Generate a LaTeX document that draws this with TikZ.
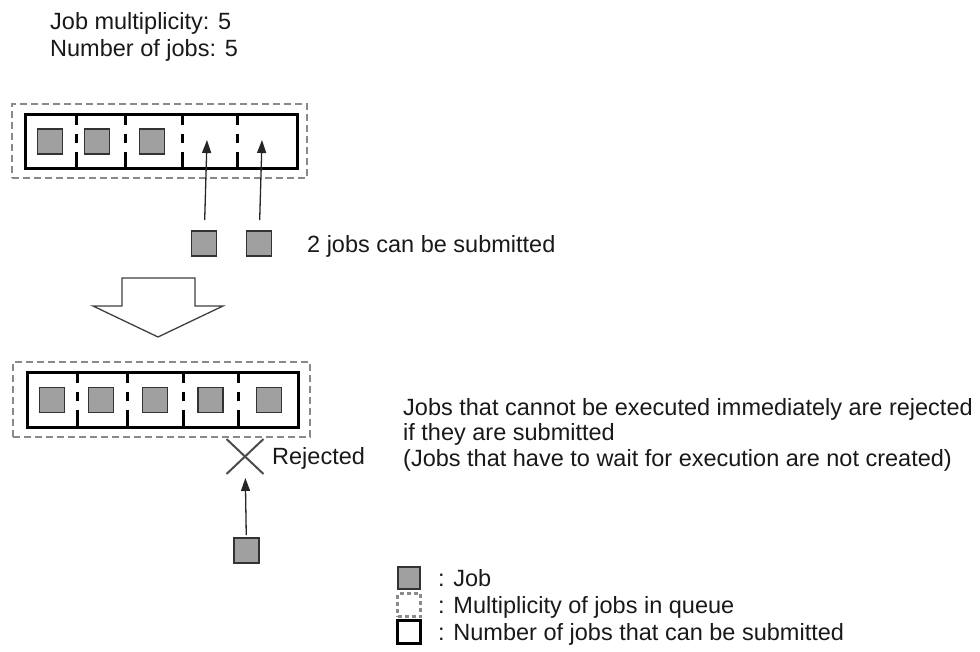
\documentclass[tikz,border=0pt]{standalone}
\usepackage{fontspec}
\setmainfont{Liberation Sans}
\usetikzlibrary{arrows.meta,shapes.misc}
\definecolor{jobfill}{HTML}{A0A0A0}
\definecolor{dashgray}{HTML}{8A8A8A}
\begin{document}
\begin{tikzpicture}[x=1pt,y=-1pt,
  txt/.style={font=\fontsize{23.5}{25.5}\selectfont, inner sep=0pt, anchor=base west, align=left, text=black!90},
  job/.style={draw=black!80, fill=jobfill, line width=1.6pt, minimum size=25pt, inner sep=0pt},
  dashbox/.style={draw=dashgray, line width=2.6pt, dash pattern=on 7pt off 4pt, inner sep=0pt},
  solidbox/.style={draw=black, line width=3pt, inner sep=0pt},
  divider/.style={draw=black, line width=3pt, dash pattern=on 12pt off 9pt on 9pt off 9pt on 16pt},
  arr/.style={draw=black!85, line width=1.3pt, -{Triangle[length=13pt,width=9pt]}},
  hollow/.style={draw=black!75, fill=white, line width=1.3pt, line join=miter},
  legdash/.style={draw=dashgray, line width=2.2pt, dash pattern=on 4pt off 3pt, minimum size=23pt, inner sep=0pt},
  legsolid/.style={draw=black, line width=3pt, minimum size=23pt, inner sep=0pt}]
\useasboundingbox (0,0) rectangle (980,652);

% title (anchor is the baseline of the last line)
\node[txt] (title) at (50,57) {Job multiplicity: 5\\[1.5pt]Number of jobs: 5};

% top queue
\node[dashbox, minimum width=295pt, minimum height=74pt] (q1o) at (159.5,141) {};
\node[solidbox, minimum width=272pt, minimum height=54pt] (q1) at (161,142) {};
\foreach \xx in {76,125,182,237} \draw[divider] (\xx,0 |- q1.north) -- (\xx,0 |- q1.south);
\node[job] (a1) at (50,141.5) {};
\node[job] (a2) at (97,141.5) {};
\node[job] (a3) at (152,141.5) {};
\coordinate (t1) at (207,140);
\coordinate (t2) at (262,140);

% jobs to submit
\node[job] (s1) at (204,243.5) {};
\node[job] (s2) at (259,243.5) {};
\draw[arr, shorten <=10pt] (s1) -- (t1);
\draw[arr, shorten <=10pt] (s2) -- (t2);
\node[txt] (can) at (307,253) {2 jobs can be submitted};

% hollow arrow
\draw[hollow] (122,278) -- (195,278) -- (195,306) -- (223,306) -- (158,337) -- (93,306) -- (122,306) -- cycle;

% bottom queue
\node[dashbox, minimum width=297pt, minimum height=75pt] (q2o) at (161.5,399.5) {};
\node[solidbox, minimum width=271pt, minimum height=55pt] (q2) at (162.5,399.5) {};
\foreach \xx in {77,127,183,238} \draw[divider] (\xx,0 |- q2.north) -- (\xx,0 |- q2.south);
\node[job] (b1) at (52,400) {};
\node[job] (b2) at (101,400) {};
\node[job] (b3) at (155,400) {};
\node[job] (b4) at (210.5,400) {};
\node[job] (b5) at (269,400) {};

% rejected job
\node[cross out, draw=black!70, line width=2pt, minimum width=35pt, minimum height=33pt, inner sep=0pt] (xx) at (245,456.5) {};
\node[txt] (rej) at (272,464) {Rejected};
\node[job] (r) at (246.5,550.5) {};
\draw[arr, shorten <=2pt, shorten >=4pt] (r) -- (xx);

% explanation (anchor is the baseline of the last line)
\node[txt] (expl) at (403,466) {Jobs that cannot be executed immediately are rejected\\if they are submitted\\(Jobs that have to wait for execution are not created)};

% legend
\node[job, minimum size=22pt] (l1) at (409,578) {};
\node[txt] (l1t) at (438,586) {: Job};
\node[legdash] (l2) at (409,605) {};
\node[txt] (l2t) at (438,613) {: Multiplicity of jobs in queue};
\node[legsolid] (l3) at (409,632) {};
\node[txt] (l3t) at (438,640) {: Number of jobs that can be submitted};
\end{tikzpicture}
\end{document}
